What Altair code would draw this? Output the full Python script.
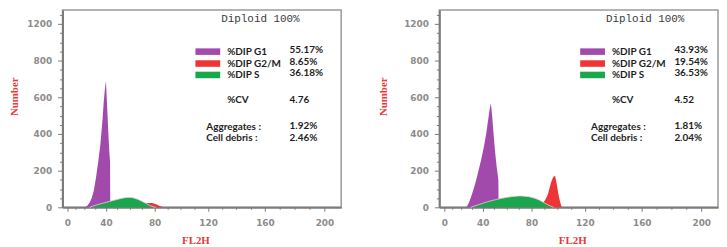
import altair as alt
import pandas as pd

# ---------------- data ----------------
# Left panel
L_G1_X = [21, 23, 25, 27, 29, 31, 33, 35, 36, 37, 38, 39, 40, 41, 42, 43, 43.6, 43.8]
L_G1_Y = [0, 10, 25, 50, 90, 160, 245, 340, 410, 480, 570, 640, 690, 560, 420, 300, 250, 0]
L_S_X = [25, 28, 31, 34, 37, 40, 43, 46, 49, 52, 55, 58, 61, 64, 67, 70, 73, 76, 79, 81]
L_S_Y = [0, 6, 12, 17, 22, 27, 32, 37, 42, 47, 51, 54, 54, 50, 43, 33, 22, 11, 3, 0]
L_G2_X = [72, 74, 76, 78, 80, 82, 84, 86.5]
L_G2_Y = [22, 23, 24, 23, 20, 14, 7, 0]
L_NAMES = ["%DIP G1", "%DIP G2/M", "%DIP S"]
L_PCTS = ["55.17%", "8.65%", "36.18%"]
L_CV = "4.76"
L_AGG = "1.92%"
L_DEB = "2.46%"

# Right panel
R_G1_X = [25, 27, 29, 31, 33, 35, 37, 39, 41, 43, 45, 46, 47, 48, 49, 50, 51, 52, 53, 53.4, 53.6]
R_G1_Y = [0, 20, 50, 85, 125, 170, 220, 270, 330, 400, 490, 535, 567, 510, 430, 350, 280, 220, 170, 150, 0]
R_S_X = [29, 32, 36, 40, 44, 48, 52, 56, 60, 64, 68, 71, 74, 78, 82, 86, 89, 92, 95, 97]
R_S_Y = [0, 6, 14, 22, 30, 37, 43, 49, 54, 58, 61, 62, 61, 58, 51, 40, 28, 16, 6, 0]
R_G2_X = [89, 90, 91, 92, 93, 94, 95, 96, 97, 98, 99, 100, 101, 102, 103]
R_G2_Y = [28, 35, 45, 60, 80, 110, 135, 155, 168, 172, 140, 95, 55, 25, 0]
R_NAMES = ["%DIP G1", "%DIP G2/M", "%DIP S"]
R_PCTS = ["43.93%", "19.54%", "36.53%"]
R_CV = "4.52"
R_AGG = "1.81%"
R_DEB = "2.04%"

TITLE = "Diploid 100%"
X_TICKS = list(range(0, 201, 10))
Y_TICKS = list(range(0, 1051, 50))

PURPLE = "#a24aab"
RED = "#ee3535"
GREEN = "#18a84b"
SWATCHES = [PURPLE, RED, GREEN]

TXT_FONT = "Lato"
TXT_COLOR = "#1e1e1e"


def panel(g1x, g1y, sx, sy, g2x, g2y, names, pcts, cv, agg, deb, dx, ytitle_x):
    xs = alt.Scale(type="pow", exponent=1.18, domain=[-7, 211], nice=False, zero=False)
    ys = alt.Scale(domain=[0, 1076], nice=False, zero=False)
    xaxis = alt.Axis(
        values=X_TICKS,
        labelExpr="datum.value % 40 == 0 ? datum.label : ''",
        tickSize={"condition": {"test": "datum.value % 40 == 0", "value": 4}, "value": 2},
        labelPadding=7,
        labelFlush=False,
        labelOverlap=False,
        title="FL2H",
        titleX=134,
        titleY=33,
        titleBaseline="middle",
    )
    yaxis = alt.Axis(
        values=Y_TICKS,
        labelExpr="datum.value % 200 == 0 ? (datum.value == 1000 ? '1200' : datum.label) : ''",
        tickSize={"condition": {"test": "datum.value % 200 == 0", "value": 5}, "value": 3},
        labelPadding=6,
        labelFlush=False,
        labelOverlap=False,
        title="Number",
        titleX=ytitle_x,
        titleY=87,
        titleAngle=270,
        titleAlign="center",
        titleBaseline="middle",
    )
    X = alt.X("x:Q", scale=xs, axis=xaxis)
    Y = alt.Y("y:Q", scale=ys, axis=yaxis)
    g1 = pd.DataFrame({"x": g1x, "y": g1y})
    s = pd.DataFrame({"x": sx, "y": sy})
    g2 = pd.DataFrame({"x": g2x, "y": g2y})

    layers = [
        alt.Chart(g1).mark_area(color=PURPLE, interpolate="linear").encode(x=X, y=Y),
        alt.Chart(g2).mark_area(color=RED, interpolate="linear").encode(x=X, y=Y),
        alt.Chart(s).mark_area(color=GREEN, interpolate="monotone").encode(x=X, y=Y),
        alt.Chart(s).mark_line(color="#f2c6ea", strokeWidth=0.8, interpolate="monotone").encode(x=X, y=Y),
    ]
    one = pd.DataFrame({"k": [0]})
    layers.append(
        alt.Chart(one).mark_text(text=TITLE, align="left", baseline="middle",
                                 font="Liberation Mono", fontSize=11, color="#3a3a3a").encode(
            x=alt.value(160 + dx), y=alt.value(9.5))
    )
    rows = [42, 54, 65.5]
    for i in range(3):
        layers.append(
            alt.Chart(one).mark_rect(color=SWATCHES[i]).encode(
                x=alt.value(134 + dx), x2=alt.value(159 + dx),
                y=alt.value(rows[i] - 3.3), y2=alt.value(rows[i] + 3.3))
        )
        layers.append(
            alt.Chart(one).mark_text(text=names[i], align="left", baseline="middle",
                                     font=TXT_FONT, fontSize=10, fontWeight="bold", color=TXT_COLOR).encode(
                x=alt.value(166 + dx), y=alt.value(rows[i]))
        )
        layers.append(
            alt.Chart(one).mark_text(text=pcts[i], align="left", baseline="middle",
                                     font=TXT_FONT, fontSize=10, fontWeight="bold", color=TXT_COLOR).encode(
                x=alt.value(229 + dx), y=alt.value(rows[i] - 1.5))
        )
    extra = [("%CV", 166, 91), ("Aggregates :", 145, 118), ("Cell debris :", 145, 129.5)]
    vals = [cv, agg, deb]
    for (lab, xx, yy), v in zip(extra, vals):
        layers.append(
            alt.Chart(one).mark_text(text=lab, align="left", baseline="middle",
                                     font=TXT_FONT, fontSize=10, fontWeight="bold", color=TXT_COLOR).encode(
                x=alt.value(xx + dx), y=alt.value(yy))
        )
        layers.append(
            alt.Chart(one).mark_text(text=v, align="left", baseline="middle",
                                     font=TXT_FONT, fontSize=10, fontWeight="bold", color=TXT_COLOR).encode(
                x=alt.value(229 + dx), y=alt.value(yy - 0.5))
        )
    return alt.layer(*layers).properties(width=281, height=199)


left = panel(L_G1_X, L_G1_Y, L_S_X, L_S_Y, L_G2_X, L_G2_Y, L_NAMES, L_PCTS, L_CV, L_AGG, L_DEB, 0, -48)
right = panel(R_G1_X, R_G1_Y, R_S_X, R_S_Y, R_G2_X, R_G2_Y, R_NAMES, R_PCTS, R_CV, R_AGG, R_DEB, 8, -56)

chart = (
    alt.hconcat(left, right, spacing=99, bounds="flush")
    .properties(padding=0, background="white")
    .configure_view(stroke="#9a9a9a", strokeWidth=1.5)
    .configure_axis(
        labelFont="DejaVu Sans", labelFontWeight="bold", labelFontSize=9, labelColor="#8c8c8c",
        domainColor="#7b7b7b", domainWidth=2, tickColor="#7b7b7b", tickWidth=1, grid=False,
        titleFont="Liberation Serif", titleFontSize=11, titleFontWeight="bold", titleColor="#e83a3a",
    )
)

chart.save("out.html", embed_options={"renderer": "svg", "actions": False})
